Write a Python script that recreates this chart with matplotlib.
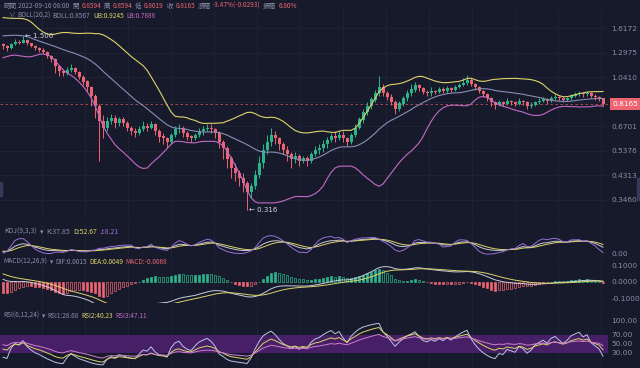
import numpy as np
import pandas as pd
import matplotlib
matplotlib.use("Agg")
import matplotlib.pyplot as plt
from matplotlib.ticker import NullLocator
from matplotlib.transforms import blended_transform_factory
from matplotlib.patches import Rectangle

# price data, one candle per entry
warmup_closes = [1.25, 1.28, 1.33, 1.40, 1.48, 1.56, 1.64, 1.72, 1.76, 1.72,
                 1.66, 1.60, 1.55, 1.50, 1.47, 1.45, 1.43, 1.42, 1.41, 1.40]
first_open = 1.40
closes = [1.37, 1.35, 1.40, 1.43, 1.42, 1.45, 1.41, 1.38, 1.35, 1.33,
          1.30, 1.26, 1.22, 1.15, 1.10, 1.08, 1.11, 1.13, 1.09, 1.04,
          1.00, 0.95, 0.88, 0.80, 0.70, 0.66, 0.70, 0.72, 0.69, 0.71,
          0.69, 0.66, 0.64, 0.63, 0.65, 0.67, 0.66, 0.68, 0.64, 0.61,
          0.60, 0.58, 0.62, 0.65, 0.66, 0.63, 0.61, 0.60, 0.62, 0.64,
          0.65, 0.66, 0.65, 0.63, 0.58, 0.55, 0.50, 0.46, 0.44, 0.42,
          0.40, 0.37, 0.39, 0.43, 0.48, 0.54, 0.58, 0.62, 0.60, 0.57,
          0.54, 0.52, 0.50, 0.51, 0.49, 0.50, 0.49, 0.52, 0.54, 0.55,
          0.57, 0.59, 0.61, 0.60, 0.62, 0.60, 0.58, 0.62, 0.66, 0.71,
          0.76, 0.80, 0.85, 0.90, 0.95, 0.90, 0.87, 0.83, 0.78, 0.82,
          0.86, 0.90, 0.93, 0.97, 0.94, 0.91, 0.90, 0.92, 0.91, 0.93,
          0.92, 0.94, 0.93, 0.95, 0.97, 0.99, 1.01, 0.98, 0.95, 0.92,
          0.89, 0.86, 0.83, 0.81, 0.83, 0.82, 0.84, 0.83, 0.82, 0.84,
          0.83, 0.80, 0.81, 0.83, 0.84, 0.85, 0.84, 0.86, 0.87, 0.86,
          0.85, 0.86, 0.88, 0.89, 0.90, 0.89, 0.90, 0.88, 0.87, 0.8594,
          0.8165]
highs = [1.42, 1.39, 1.42, 1.46, 1.45, 1.506, 1.46, 1.42, 1.39, 1.36,
         1.35, 1.31, 1.27, 1.23, 1.16, 1.12, 1.14, 1.17, 1.14, 1.10,
         1.06, 1.01, 0.96, 0.89, 0.82, 0.74, 0.73, 0.75, 0.74, 0.73,
         0.73, 0.70, 0.67, 0.66, 0.67, 0.70, 0.69, 0.70, 0.69, 0.65,
         0.63, 0.61, 0.63, 0.67, 0.68, 0.67, 0.64, 0.62, 0.63, 0.66,
         0.67, 0.68, 0.68, 0.66, 0.64, 0.59, 0.56, 0.51, 0.48, 0.45,
         0.44, 0.41, 0.40, 0.45, 0.51, 0.57, 0.62, 0.66, 0.64, 0.61,
         0.58, 0.56, 0.53, 0.53, 0.52, 0.51, 0.51, 0.53, 0.56, 0.57,
         0.59, 0.61, 0.63, 0.64, 0.64, 0.64, 0.61, 0.63, 0.68, 0.73,
         0.78, 0.83, 0.87, 0.93, 1.05, 0.98, 0.92, 0.89, 0.85, 0.84,
         0.88, 0.93, 0.98, 1.00, 0.98, 0.95, 0.93, 0.95, 0.93, 0.95,
         0.95, 0.96, 0.95, 0.97, 0.99, 1.03, 1.06, 1.03, 0.99, 0.96,
         0.93, 0.90, 0.87, 0.84, 0.85, 0.84, 0.86, 0.85, 0.84, 0.86,
         0.85, 0.84, 0.83, 0.84, 0.86, 0.87, 0.86, 0.88, 0.89, 0.88,
         0.87, 0.87, 0.89, 0.91, 0.92, 0.91, 0.92, 0.91, 0.89, 0.88,
         0.8594]
lows = [1.34, 1.32, 1.34, 1.39, 1.40, 1.41, 1.39, 1.36, 1.33, 1.30,
        1.28, 1.24, 1.19, 1.08, 1.05, 1.05, 1.06, 1.09, 1.07, 1.02,
        0.97, 0.92, 0.80, 0.72, 0.49, 0.60, 0.64, 0.68, 0.66, 0.67,
        0.67, 0.64, 0.62, 0.61, 0.62, 0.64, 0.64, 0.65, 0.62, 0.58,
        0.57, 0.55, 0.57, 0.61, 0.63, 0.61, 0.59, 0.58, 0.59, 0.61,
        0.62, 0.64, 0.63, 0.60, 0.55, 0.50, 0.46, 0.42, 0.41, 0.39,
        0.37, 0.316, 0.35, 0.38, 0.42, 0.46, 0.52, 0.56, 0.57, 0.54,
        0.52, 0.49, 0.46, 0.48, 0.47, 0.48, 0.47, 0.48, 0.51, 0.52,
        0.53, 0.55, 0.58, 0.58, 0.59, 0.58, 0.56, 0.57, 0.61, 0.65,
        0.69, 0.74, 0.78, 0.83, 0.88, 0.88, 0.85, 0.81, 0.75, 0.77,
        0.80, 0.84, 0.88, 0.91, 0.92, 0.89, 0.88, 0.88, 0.89, 0.90,
        0.90, 0.90, 0.91, 0.92, 0.94, 0.96, 0.97, 0.96, 0.93, 0.90,
        0.87, 0.84, 0.80, 0.78, 0.80, 0.80, 0.81, 0.81, 0.80, 0.81,
        0.81, 0.78, 0.79, 0.80, 0.82, 0.83, 0.82, 0.83, 0.85, 0.84,
        0.83, 0.84, 0.85, 0.87, 0.88, 0.87, 0.88, 0.86, 0.85, 0.84,
        0.8019]
price_ticks = [1.6172, 1.2975, 1.0410, 0.6701, 0.5376, 0.4313, 0.3460]
last_price = 0.8165

BG = "#161a2b"
GRID = "#1f2437"
GRAY = "#8a8fa8"
UP = "#2bb48c"
DOWN = "#ec6471"
YEL = "#ded36a"
PUR = "#c46ac4"
LIGHT = "#c9cbdc"
CJK = ["Noto Sans CJK TC", "DejaVu Sans"]

opens = [first_open] + closes[:-1]
n = len(closes)
x = np.arange(n)

# indicators, computed from the candles
nw = len(warmup_closes)
c_all = pd.Series(warmup_closes + closes)
h_all = pd.Series(warmup_closes + highs)
l_all = pd.Series(warmup_closes + lows)

mid = c_all.rolling(20, min_periods=1).mean()
sd = c_all.rolling(20, min_periods=1).std(ddof=0)
ub, lb = mid + 2 * sd, mid - 2 * sd

low9 = l_all.rolling(9, min_periods=1).min()
high9 = h_all.rolling(9, min_periods=1).max()
rsv = (c_all - low9) / (high9 - low9).replace(0, np.nan) * 100
rsv = rsv.fillna(50)
K = rsv.ewm(alpha=1 / 3, adjust=False).mean()
D = K.ewm(alpha=1 / 3, adjust=False).mean()
J = 3 * K - 2 * D

dif = c_all.ewm(span=12, adjust=False).mean() - c_all.ewm(span=26, adjust=False).mean()
dea = dif.ewm(span=9, adjust=False).mean()
hist = (dif - dea) * 2


def rsi(s, p):
    d = s.diff().fillna(0)
    up = d.clip(lower=0).ewm(alpha=1 / p, adjust=False).mean()
    dn = (-d.clip(upper=0)).ewm(alpha=1 / p, adjust=False).mean()
    return 100 * up / (up + dn).replace(0, np.nan)


rsi6, rsi12, rsi24 = rsi(c_all, 6), rsi(c_all, 12), rsi(c_all, 24)


def cut(s):
    return s.iloc[nw:].to_numpy()


fig = plt.figure(figsize=(6.4, 3.68), dpi=100, facecolor=BG)
H = 368.0
XR = 608 / 640


def panel(top, bot):
    return fig.add_axes([0, 1 - bot / H, XR, (bot - top) / H], facecolor=BG)


ax = panel(10, 218)
ax_k = panel(222, 257)
ax_m = panel(258, 303)
ax_r = panel(305, 368)

gx = np.arange(9.75, n, 10.75)
for a in (ax, ax_k, ax_m, ax_r):
    a.set_xlim(-0.75, 151.25)
    for s in a.spines.values():
        s.set_visible(False)
    a.set_xticks([])
    a.yaxis.tick_right()
    a.tick_params(axis="y", length=0, pad=2.5, labelsize=5.3, labelcolor=GRAY)
    for g in gx:
        a.axvline(g, color=GRID, lw=0.6, zorder=0)

# main price panel
ax.set_yscale("log")
ax.set_ylim(0.2932, 1.902)
ax.set_yticks(price_ticks)
ax.set_yticklabels([f"{v:.4f}" for v in price_ticks])
ax.yaxis.set_minor_locator(NullLocator())
for v in price_ticks + [0.8352]:
    ax.axhline(v, color=GRID, lw=0.6, zorder=0)

o, c = np.array(opens), np.array(closes)
up = c >= o
cols = np.where(up, UP, DOWN)
ax.vlines(x, lows, highs, colors=cols, lw=0.7, zorder=3)
ax.bar(x, np.abs(c - o) + 1e-3, bottom=np.minimum(o, c), width=0.75,
       color=cols, zorder=4, linewidth=0)

ax.plot(x, cut(ub), color=YEL, lw=0.8, zorder=5)
ax.plot(x, cut(mid), color="#8a8db5", lw=0.8, zorder=5)
ax.plot(x, cut(lb), color=PUR, lw=0.8, zorder=5)

ax.axhline(last_price, color="#b8505e", lw=0.6, ls=(0, (3, 3)), zorder=2)
tr = blended_transform_factory(ax.transAxes, ax.transData)
ax.text(1.008, last_price, "0.8165", transform=tr, color="white", fontsize=5.3,
        va="center", ha="left", clip_on=False,
        bbox=dict(boxstyle="square,pad=0.35", fc="#ee6470", ec="none"))

imax = int(np.argmax(highs))
imin = int(np.argmin(lows))
ax.text(imax + 0.6, highs[imax], "← 1.506", color="#d6d7e2", fontsize=5.0,
        va="center", ha="left", zorder=6)
ax.text(imin + 0.6, lows[imin], "← 0.316", color="#d6d7e2", fontsize=5.0,
        va="center", ha="left", zorder=6)

# KDJ
ax_k.set_ylim(-25, 194)
ax_k.set_yticks([0])
ax_k.set_yticklabels(["0.00"])
ax_k.plot(x, cut(K), color=LIGHT, lw=0.7)
ax_k.plot(x, cut(D), color=YEL, lw=0.7)
ax_k.plot(x, cut(J), color="#9b6fd6", lw=0.7)

# MACD
ax_m.set_ylim(-0.127, 0.1424)
ax_m.set_yticks([0.1, 0.0, -0.1])
ax_m.set_yticklabels(["0.1000", "0.0000", "-0.1000"])
hv = cut(hist)
hprev = np.concatenate([[hv[0]], hv[:-1]])
for i in range(n):
    v = hv[i]
    colr = UP if v >= 0 else DOWN
    solid = abs(v) >= abs(hprev[i])
    ax_m.bar(i, v, width=0.62, color=colr if solid else BG, edgecolor=colr,
             linewidth=0.5)
ax_m.plot(x, cut(dif), color=LIGHT, lw=0.7)
ax_m.plot(x, cut(dea), color=YEL, lw=0.7)

# RSI
ax_r.set_ylim(-3, 135)
ax_r.set_yticks([100, 70, 50, 30])
ax_r.set_yticklabels(["100.00", "70.00", "50.00", "30.00"])
ax_r.axhspan(30, 70, color="#471f66", lw=0, zorder=0)
ax_r.plot(x, cut(rsi6), color="#b9c6e6", lw=0.7)
ax_r.plot(x, cut(rsi12), color=YEL, lw=0.7)
ax_r.plot(x, cut(rsi24), color="#d07ed0", lw=0.7)

# header rows
fig.canvas.draw()
rend = fig.canvas.get_renderer()


def row(px, py, parts, size=4.7, gap=2.5):
    xx = px / 640
    for s, colr in parts:
        t = fig.text(xx, 1 - py / H, s, color=colr, fontsize=size, va="center",
                     ha="left", family=CJK)
        bb = t.get_window_extent(renderer=rend)
        xx += (bb.width + gap) / fig.bbox.width


row(3, 6, [("時間", GRAY), ("2022-09-16 08:00", GRAY), ("開", GRAY), ("0.8594", DOWN),
           ("高", GRAY), ("0.8594", DOWN), ("低", GRAY), ("0.8019", DOWN),
           ("收", GRAY), ("0.8165", DOWN), ("漲幅", GRAY), ("-3.47%(-0.0293)", DOWN),
           ("振幅", GRAY), ("6.80%", DOWN)])
row(8, 16, [("∨", GRAY), ("BOLL(20,2)", GRAY), ("BOLL:0.8567", GRAY),
            ("UB:0.9245", YEL), ("LB:0.7888", PUR)])
row(4, 232, [("KDJ(9,3,3)", GRAY), ("▾", GRAY), ("K:37.85", GRAY),
             ("D:52.67", YEL), ("J:8.21", "#a070d8")], size=5.0, gap=3)
row(3, 262, [("MACD(12,26,9)", GRAY), ("▾", GRAY), ("DIF:0.0015", GRAY),
             ("DEA:0.0049", YEL), ("MACD:-0.0068", DOWN)])
row(3, 316, [("RSI(6,12,24)", GRAY), ("▾", GRAY), ("RSI1:28.68", GRAY),
             ("RSI2:40.23", YEL), ("RSI3:47.11", PUR)])

# small scroll handles on the edges
fig.patches.append(Rectangle((0, 1 - 196 / H), 2 / 640, 14 / H, transform=fig.transFigure,
                             color="#343a58", zorder=0))
fig.patches.append(Rectangle((637 / 640, 1 - 200 / H), 3 / 640, 22 / H,
                             transform=fig.transFigure, color="#343a58", zorder=0))

fig.savefig("out.png", dpi=100, facecolor=BG)
